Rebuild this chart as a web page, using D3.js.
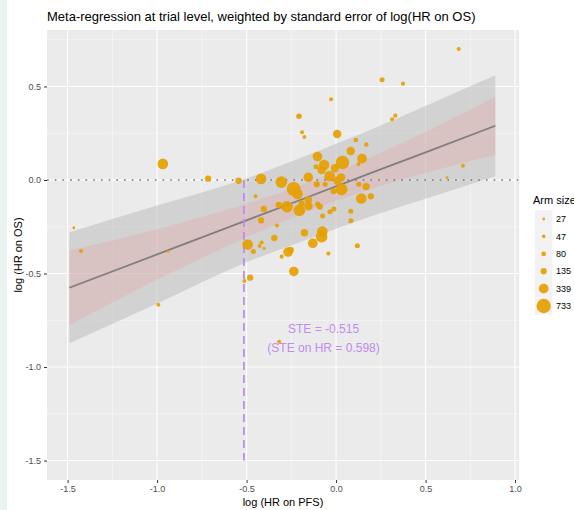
<!DOCTYPE html>
<html>
<head>
<meta charset="utf-8">
<script src="https://cdn.jsdelivr.net/npm/d3@7"></script>
<style>
  body { margin: 0; background: #ffffff; }
  text { font-family: "Liberation Sans", Arial, sans-serif; }
</style>
</head>
<body>
<div id="chart"></div>
<script>
"use strict";

// trial arms: log HR on PFS, log HR on OS, arm size
const pfsLog = [-1.465, -1.425, -0.968, -0.715, -0.939, -0.993, 0.685, 0.257, 0.374, 0.331,
    0.313, 0.709, 0.620, 0.110, 0.169, 0.145, 0.125, 0.082, 0.127, 0.168,
    0.141, 0.194, -0.028, -0.207, -0.190, -0.177, 0.006, -0.104, -0.067, 0.036,
    -0.006, -0.112, -0.081, -0.036, 0.028, 0.008, -0.155, -0.545, -0.419, -0.306,
    -0.237, -0.216, -0.108, -0.061, 0.031, -0.014, -0.450, -0.404, -0.419, -0.320,
    -0.274, -0.205, -0.154, -0.155, -0.192, -0.103, -0.091, -0.075, -0.034, -0.012,
    0.082, 0.083, -0.330, -0.345, -0.177, -0.077, -0.081, -0.130, -0.043, 0.119,
    -0.494, -0.462, -0.416, -0.427, -0.402, -0.304, -0.268, -0.254, -0.236, -0.480,
    -0.512, -0.318];
const osLog = [-0.255, -0.380, 0.086, 0.007, -0.381, -0.667, 0.700, 0.536, 0.515, 0.344,
    0.325, 0.076, 0.012, 0.214, 0.190, 0.114, 0.086, 0.155, -0.023, -0.035,
    -0.099, -0.087, 0.432, 0.341, 0.255, 0.230, 0.246, 0.125, 0.080, 0.094,
    0.063, 0.071, 0.053, 0.021, 0.014, -0.004, 0.014, -0.004, 0.006, -0.011,
    -0.048, -0.075, -0.023, -0.023, -0.050, -0.059, -0.087, -0.155, -0.216, -0.133,
    -0.143, -0.162, -0.139, -0.107, -0.125, -0.129, -0.142, -0.193, -0.170, -0.155,
    -0.167, -0.218, -0.243, -0.310, -0.282, -0.276, -0.303, -0.338, -0.393, -0.351,
    -0.345, -0.382, -0.334, -0.353, -0.365, -0.410, -0.385, -0.374, -0.489, -0.522,
    -0.540, -0.865];
const armSize = [30, 60, 400, 140, 27, 55, 60, 90, 60, 60,
    60, 55, 27, 75, 70, 330, 55, 250, 90, 190,
    400, 140, 55, 110, 55, 55, 250, 330, 400, 640,
    250, 90, 250, 400, 250, 250, 330, 140, 400, 480,
    700, 400, 140, 90, 480, 140, 55, 140, 140, 140,
    480, 480, 250, 190, 140, 90, 140, 90, 90, 90,
    90, 90, 60, 140, 190, 400, 480, 330, 60, 90,
    400, 90, 60, 60, 35, 60, 330, 140, 330, 140,
    60, 60];

// fitted line with confidence (red) and prediction (grey) bands
const fitX = [-1.49, -1.0, -0.5, -0.2, 0.2, 0.5, 0.89];
const fitY = [-0.576, -0.398, -0.216, -0.107, 0.039, 0.148, 0.290];
const ciLow = [-0.776, -0.533, -0.306, -0.185, -0.046, 0.038, 0.135];
const ciHigh = [-0.376, -0.263, -0.126, -0.029, 0.124, 0.258, 0.445];
const piLow = [-0.873, -0.660, -0.440, -0.332, -0.193, -0.100, 0.020];
const piHigh = [-0.279, -0.136, 0.008, 0.118, 0.271, 0.396, 0.560];

const steValue = -0.515;
const steLabels = ["STE = -0.515", "(STE on HR = 0.598)"];

const xTicks = [-1.5, -1.0, -0.5, 0.0, 0.5, 1.0];
const xMinor = [-1.25, -0.75, -0.25, 0.25, 0.75];
const yTicks = [-1.5, -1.0, -0.5, 0.0, 0.5];
const yMinor = [-1.25, -0.75, -0.25, 0.25, 0.75];
const legendSizes = [27, 47, 80, 135, 339, 733];

const plot = {
    width: 574,
    height: 510,
    left: 47,
    right: 519,
    top: 30,
    bottom: 480
}

let svg = "";
let xScale = "";
let yScale = "";
let rScale = "";

window.onload = function () {
    svg = d3.select("#chart")
        .append("svg")
        .attr("width", plot.width)
        .attr("height", plot.height);

    xScale = d3.scaleLinear().domain([-1.615, 1.022]).range([plot.left, plot.right]);
    yScale = d3.scaleLinear().domain([-1.604, 0.802]).range([plot.bottom, plot.top]);
    rScale = d3.scaleSqrt().domain([0, 733]).range([0, 7.2]);

    // faint strip on the left edge of the screenshot
    svg.append("rect")
        .attr("x", 0).attr("y", 0)
        .attr("width", 7).attr("height", plot.height)
        .attr("fill", "#e9f4f0");

    drawPanel();
    drawBands();
    drawReference();
    drawPoints();
    drawAxes();
    drawLegend();
}

function drawPanel() {
    svg.append("rect")
        .attr("x", plot.left)
        .attr("y", plot.top)
        .attr("width", plot.right - plot.left)
        .attr("height", plot.bottom - plot.top)
        .attr("fill", "#ebebeb");

    let grid = svg.append("g");
    grid.selectAll(".xminor").data(xMinor).enter().append("line")
        .attr("x1", d => xScale(d)).attr("x2", d => xScale(d))
        .attr("y1", plot.top).attr("y2", plot.bottom)
        .attr("stroke", "#fafafa").attr("stroke-width", 0.6);
    grid.selectAll(".yminor").data(yMinor).enter().append("line")
        .attr("y1", d => yScale(d)).attr("y2", d => yScale(d))
        .attr("x1", plot.left).attr("x2", plot.right)
        .attr("stroke", "#fafafa").attr("stroke-width", 0.6);
    grid.selectAll(".xmajor").data(xTicks).enter().append("line")
        .attr("x1", d => xScale(d)).attr("x2", d => xScale(d))
        .attr("y1", plot.top).attr("y2", plot.bottom)
        .attr("stroke", "#ffffff").attr("stroke-width", 1.1);
    grid.selectAll(".ymajor").data(yTicks).enter().append("line")
        .attr("y1", d => yScale(d)).attr("y2", d => yScale(d))
        .attr("x1", plot.left).attr("x2", plot.right)
        .attr("stroke", "#ffffff").attr("stroke-width", 1.1);
}

function drawBands() {
    let idx = d3.range(fitX.length);

    let piArea = d3.area()
        .x(i => xScale(fitX[i]))
        .y0(i => yScale(piLow[i]))
        .y1(i => yScale(piHigh[i]))
        .curve(d3.curveMonotoneX);
    svg.append("path")
        .datum(idx)
        .attr("d", piArea)
        .attr("fill", "#bdbdbd")
        .attr("opacity", 0.55);

    let ciArea = d3.area()
        .x(i => xScale(fitX[i]))
        .y0(i => yScale(ciLow[i]))
        .y1(i => yScale(ciHigh[i]))
        .curve(d3.curveMonotoneX);
    svg.append("path")
        .datum(idx)
        .attr("d", ciArea)
        .attr("fill", "#e8a0a0")
        .attr("opacity", 0.3);

    svg.append("path")
        .datum(idx)
        .attr("fill", "none")
        .attr("stroke", "#7f7f7f")
        .attr("stroke-width", 1.8)
        .attr("d", d3.line()
            .x(i => xScale(fitX[i]))
            .y(i => yScale(fitY[i])));
}

function drawReference() {
    svg.append("line")
        .attr("x1", plot.left).attr("x2", plot.right)
        .attr("y1", yScale(0)).attr("y2", yScale(0))
        .attr("stroke", "#7a7a7a")
        .attr("stroke-width", 1.7)
        .attr("stroke-dasharray", "1.7,6");

    svg.append("line")
        .attr("x1", xScale(steValue)).attr("x2", xScale(steValue))
        .attr("y1", yScale(0)).attr("y2", yScale(-1.5))
        .attr("stroke", "#c08cf2")
        .attr("stroke-width", 1.8)
        .attr("stroke-dasharray", "8,5");

    svg.selectAll(".ste")
        .data(steLabels)
        .enter()
        .append("text")
        .attr("x", xScale(-0.07))
        .attr("y", (d, i) => yScale(-0.797) + 4 + i * 19)
        .attr("text-anchor", "middle")
        .attr("font-size", "12px")
        .attr("fill", "#bf8cf0")
        .text(d => d);
}

function drawPoints() {
    svg.selectAll(".dot")
        .data(d3.range(pfsLog.length))
        .enter()
        .append("circle")
        .attr("cx", i => xScale(pfsLog[i]))
        .attr("cy", i => yScale(osLog[i]))
        .attr("r", i => rScale(armSize[i]))
        .attr("fill", "#E69F00")
        .attr("opacity", 0.92);
}

function drawAxes() {
    let xAxis = d3.axisBottom(xScale)
        .tickValues(xTicks)
        .tickSize(3)
        .tickPadding(3)
        .tickFormat(d => d.toFixed(1));
    let gx = svg.append("g")
        .attr("transform", "translate(0," + plot.bottom + ")")
        .call(xAxis);
    styleAxis(gx);

    let yAxis = d3.axisLeft(yScale)
        .tickValues(yTicks)
        .tickSize(3)
        .tickPadding(3)
        .tickFormat(d => d.toFixed(1));
    let gy = svg.append("g")
        .attr("transform", "translate(" + plot.left + ",0)")
        .call(yAxis);
    styleAxis(gy);

    svg.append("text")
        .attr("x", 47)
        .attr("y", 21)
        .attr("font-size", "13px")
        .attr("fill", "#000000")
        .text("Meta-regression at trial level, weighted by standard error of log(HR on OS)");

    svg.append("text")
        .attr("x", (plot.left + plot.right) / 2)
        .attr("y", 506)
        .attr("text-anchor", "middle")
        .attr("font-size", "11px")
        .attr("fill", "#000000")
        .text("log (HR on PFS)");

    svg.append("text")
        .attr("transform", "translate(22," + ((plot.top + plot.bottom) / 2) + ") rotate(-90)")
        .attr("text-anchor", "middle")
        .attr("font-size", "11px")
        .attr("fill", "#000000")
        .text("log (HR on OS)");
}

function styleAxis(g) {
    g.select(".domain").remove();
    g.selectAll(".tick line").attr("stroke", "#333333").attr("stroke-width", 1);
    g.selectAll(".tick text")
        .attr("fill", "#4d4d4d")
        .style("font-size", "9px")
        .style("font-family", "Liberation Sans, Arial, sans-serif");
}

function drawLegend() {
    let legend = svg.append("g");
    legend.append("text")
        .attr("x", 533)
        .attr("y", 204)
        .attr("font-size", "11px")
        .attr("fill", "#000000")
        .text("Arm size");

    let rowY = d => 219 + legendSizes.indexOf(d) * 17.4;
    legend.selectAll(".key")
        .data(legendSizes)
        .enter()
        .append("rect")
        .attr("x", 535)
        .attr("y", d => rowY(d) - 8.7)
        .attr("width", 17.4)
        .attr("height", 17.4)
        .attr("fill", "#f2f2f2");
    legend.selectAll(".keydot")
        .data(legendSizes)
        .enter()
        .append("circle")
        .attr("cx", 543.7)
        .attr("cy", rowY)
        .attr("r", d => rScale(d))
        .attr("fill", "#E69F00")
        .attr("opacity", 0.92);
    legend.selectAll(".keylabel")
        .data(legendSizes)
        .enter()
        .append("text")
        .attr("x", 556)
        .attr("y", d => rowY(d) + 3.2)
        .attr("font-size", "9px")
        .attr("fill", "#000000")
        .text(d => d);
}
</script>
</body>
</html>
